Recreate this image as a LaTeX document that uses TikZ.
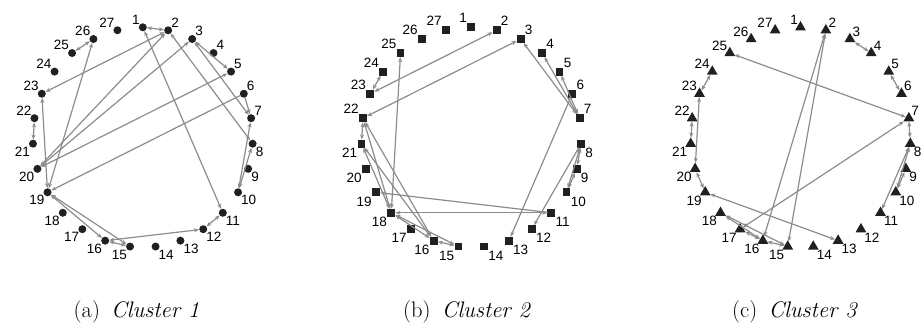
\documentclass[tikz,border=0pt]{standalone}
\usepackage{fontspec}
\newfontfamily\labelfont{Liberation Sans}
\usepackage{xcolor}
\usetikzlibrary{arrows.meta,shapes.geometric}
\definecolor{edgegray}{HTML}{8C8C8C}
\definecolor{nodeblack}{HTML}{202020}
\tikzset{
  every picture/.append style={line cap=round,line join=round},
  cl node/.style={fill=nodeblack,inner sep=0pt,label distance=3pt},
  cl dot/.style={cl node,circle,minimum size=8pt},
  cl square/.style={cl node,rectangle,minimum size=7.8pt},
  cl tri/.style={cl node,regular polygon,regular polygon sides=3,minimum size=12.5pt},
  cl label/.style={font=\labelfont\fontsize{13.5}{16}\selectfont,inner sep=0pt},
  cl link/.style={draw=edgegray,line width=1.2pt,{Stealth[length=5pt,width=4pt]}-{Stealth[length=5pt,width=4pt]}},
  cl linkto/.style={draw=edgegray,line width=1.2pt,-{Stealth[length=5pt,width=4pt]}},
  cl caption/.style={font=\fontsize{22.5}{27}\selectfont}
}

\begin{document}
\begin{tikzpicture}[x=1pt,y=1pt]
\useasboundingbox (0,0) rectangle (924,324);

% cluster 1
\begin{scope}[shift={(142.8,186.7)}]
\foreach \i in {1,...,27}{
  \pgfmathtruncatemacro{\la}{ifthenelse(\i<2,135,ifthenelse(\i<8,45,ifthenelse(\i<15,-45,ifthenelse(\i<22,-135,135))))}
  \node[cl dot,label={[cl label]\la:\i}] (a\i) at ({90-(\i-1)*360/27}:110) {};
}
\foreach \s/\t in {1/2,2/23,20/2,20/3,20/5,2/8,1/11,3/5,3/7,7/10,8/10,26/19,25/26,23/19,21/22,19/16,19/15,16/12,11/12,15/16}
  \draw[cl link] (a\s) -- (a\t);
\draw[cl linkto] (a6) -- (a19);
\draw[cl linkto] (a6) -- (a7);
\end{scope}

% cluster 2
\begin{scope}[shift={(471.3,186.7)}]
\foreach \i in {1,...,27}{
  \pgfmathtruncatemacro{\la}{ifthenelse(\i<2,135,ifthenelse(\i<8,45,ifthenelse(\i<15,-45,ifthenelse(\i<22,-135,135))))}
  \node[cl square,label={[cl label]\la:\i}] (b\i) at ({90-(\i-1)*360/27}:110) {};
}
\foreach \s/\t in {2/23,3/22,23/24,18/25,3/7,4/7,5/7,8/9,8/10,9/10,11/18,21/22,22/18,22/16,21/18,21/16,18/16,16/15,18/15}
  \draw[cl link] (b\s) -- (b\t);
\draw[cl linkto] (b6) -- (b13);
\draw[cl linkto] (b8) -- (b12);
\draw[cl linkto] (b11) -- (b19);
\end{scope}

% cluster 3
\begin{scope}[shift={(800.5,186.7)}]
\foreach \i in {1,...,27}{
  \pgfmathtruncatemacro{\la}{ifthenelse(\i<2,135,ifthenelse(\i<8,45,ifthenelse(\i<15,-45,ifthenelse(\i<22,-135,135))))}
  \node[cl tri,label={[cl label]\la:\i}] (c\i) at ({90-(\i-1)*360/27}:110) {};
}
\foreach \s/\t in {3/4,5/6,25/7,17/7,7/8,8/10,8/11,9/10,2/16,2/15,23/24,22/21,23/20,20/19,19/13,18/16,18/15,17/16,16/15}
  \draw[cl link] (c\s) -- (c\t);
\end{scope}

\node[cl caption] (capa) at (136.5,12) {(a)\hspace{0.5em}\textit{Cluster 1}};
\node[cl caption] (capb) at (467,12) {(b)\hspace{0.5em}\textit{Cluster 2}};
\node[cl caption] (capc) at (795,12) {(c)\hspace{0.5em}\textit{Cluster 3}};
\end{tikzpicture}
\end{document}
